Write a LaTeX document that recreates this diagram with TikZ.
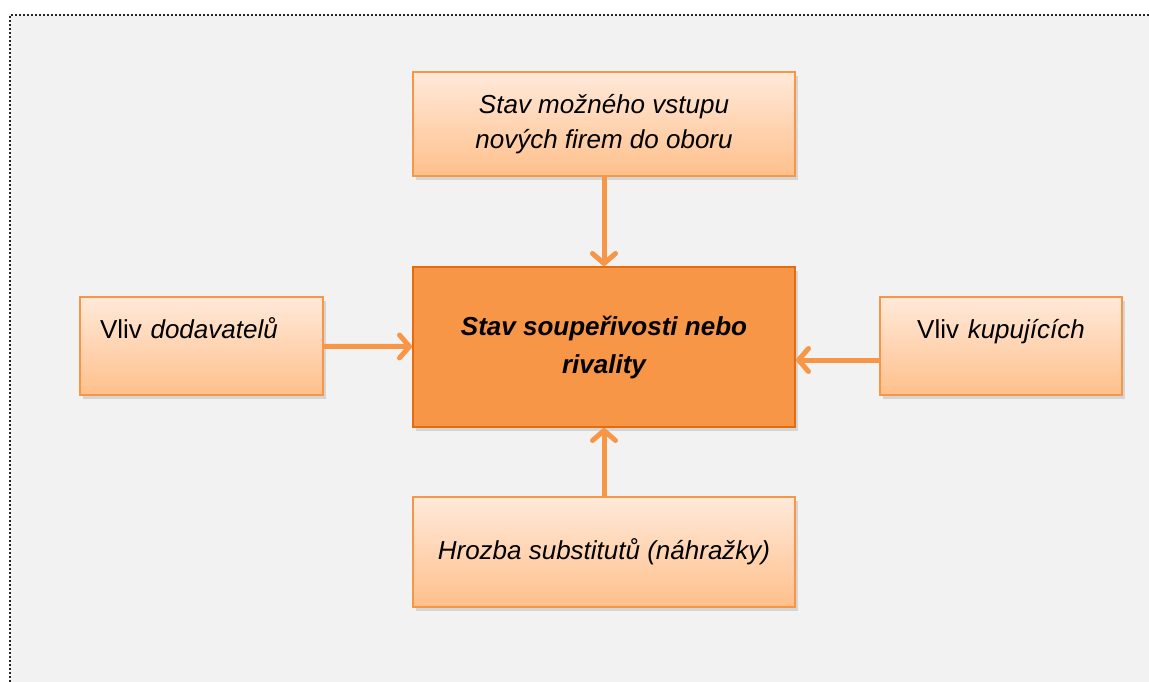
\documentclass[tikz,border=0pt]{standalone}
\usepackage{fontspec}
\setmainfont{Liberation Sans}
\usetikzlibrary{arrows.meta,shadows}

\definecolor{bggray}{HTML}{F2F2F2}
\definecolor{accent}{HTML}{F79646}
\definecolor{accentdark}{HTML}{E46C0A}
\definecolor{boxtop}{HTML}{FFE9DA}
\definecolor{boxbot}{HTML}{FFC08B}

\tikzset{
  force/.style={draw=accent, line width=2pt, top color=boxtop, bottom color=boxbot,
    drop shadow={shadow xshift=3pt, shadow yshift=-4pt, opacity=0.25},
    font=\fontsize{26}{35}\selectfont, inner sep=0pt},
  rivalry/.style={draw=accentdark, line width=2pt, fill=accent,
    drop shadow={shadow xshift=3pt, shadow yshift=-4pt, opacity=0.25},
    font=\fontsize{26}{38}\selectfont\bfseries\itshape, align=center,
    minimum width=382pt, minimum height=160pt, inner sep=0pt},
  push/.style={draw=accent, line width=5pt,
    -{Straight Barb[length=10pt,width=23pt,line cap=round,line join=round]}},
  framedots/.style={line width=2.2pt, dash pattern=on 2pt off 2pt, color=black!85}
}

\begin{document}
\begin{tikzpicture}[x=1pt, y=-1pt]
			%%%%% START %%%%%
			
			\useasboundingbox (0, 0) rectangle (1149, 682);
			\fill[white] (0, 0) rectangle (1149, 682);
			\fill[bggray] (10, 15) rectangle (1149, 682);
			\draw[framedots] (10, 682) -- (10, 15) -- (1149, 15);
			
			\node[rivalry] (core) at (604, 347) {Stav soupeřivosti nebo\\rivality};
			
			\node[force, minimum width=382pt, minimum height=104pt, align=center, font=\fontsize{26}{35}\selectfont\itshape]
			  (entry) at (604, 124) {Stav možného vstupu\\nových firem do oboru};
			
			\node[force, minimum width=243pt, minimum height=98pt, text width=203pt, align=left]
			  (supplier) at (201.5, 346) {Vliv \textit{dodavatelů}\\\mbox{}};
			
			\node[force, minimum width=242pt, minimum height=98pt, text width=222pt, align=center]
			  (buyer) at (1001, 346) {Vliv \textit{kupujících}\\\mbox{}};
			
			\node[force, minimum width=382pt, minimum height=110pt, align=center, font=\fontsize{26}{35}\selectfont\itshape]
			  (subst) at (604, 552) {\raisebox{-6pt}{Hrozba substitutů (náhražky)}};
			
			\draw[push] (entry) -- (core);
			\draw[push] (subst) -- (core);
			\draw[push] (supplier) -- (core);
			\draw[push] ([yshift=-14pt]buyer.west) -- ([yshift=-13pt]core.east);
			
			%%%%% END %%%%%
\end{tikzpicture}
\end{document}
